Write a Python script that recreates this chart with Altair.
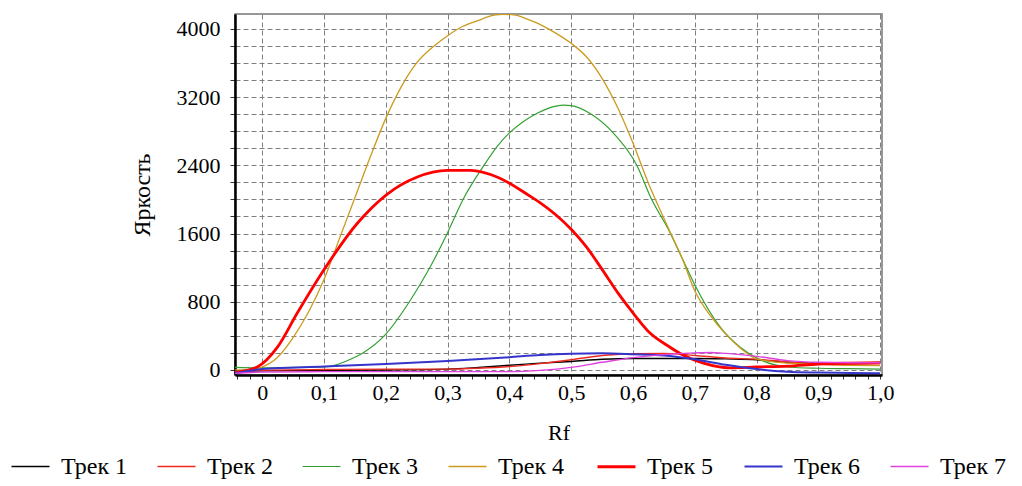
import altair as alt
import pandas as pd

tracks = ["Трек 1", "Трек 2", "Трек 3", "Трек 4", "Трек 5", "Трек 6", "Трек 7"]
colors = ["#000000", "#ee2a22", "#33a033", "#cc9a1c", "#ff0000", "#3535cc", "#e040e0"]
widths = [1.4, 1.4, 1.2, 1.3, 2.8, 2.0, 1.4]

rf_t1 = [-0.044, 0.0, 0.1, 0.2, 0.3, 0.35, 0.4, 0.45, 0.5, 0.55, 0.6, 0.65, 0.7, 0.75, 0.8, 0.85, 0.9, 0.95, 1.0]
val_t1 = [-20, -10, -5, 0, 10, 30, 55, 80, 100, 125, 135, 135, 135, 130, 120, 90, 80, 80, 80]

rf_t2 = [-0.044, 0.0, 0.1, 0.2, 0.3, 0.35, 0.4, 0.45, 0.5, 0.55, 0.6, 0.65, 0.7, 0.75, 0.8, 0.85, 0.9, 0.95, 1.0]
val_t2 = [-25, -5, 5, 10, 10, 20, 40, 75, 120, 170, 190, 195, 170, 140, 125, 95, 70, 62, 55]

rf_t3 = [-0.044, 0.0, 0.05, 0.1, 0.15, 0.163, 0.2, 0.24, 0.272, 0.3, 0.325, 0.358, 0.38, 0.4, 0.42, 0.445, 0.47,
         0.487, 0.5, 0.53, 0.568, 0.607, 0.628, 0.66, 0.681, 0.7, 0.741, 0.773, 0.806, 0.85, 0.9, 0.95, 1.0]
val_t3 = [30, 25, 30, 35, 150, 200, 420, 820, 1210, 1610, 2000, 2390, 2620, 2780, 2900, 3010, 3085,
          3105, 3100, 3010, 2780, 2390, 2035, 1610, 1290, 1000, 505, 270, 120, 35, 20, 15, 10]

rf_t4 = [-0.044, -0.015, 0.0, 0.025, 0.05, 0.075, 0.1, 0.125, 0.15, 0.175, 0.2, 0.225, 0.25, 0.275, 0.3,
         0.325, 0.35, 0.375, 0.39, 0.41, 0.43, 0.45, 0.475, 0.5, 0.525, 0.55, 0.575, 0.6, 0.625, 0.655,
         0.68, 0.7, 0.725, 0.75, 0.775, 0.8, 0.85, 0.9, 0.95, 1.0]
val_t4 = [0, 5, 35, 150, 380, 680, 1060, 1540, 2020, 2500, 2950, 3320, 3600, 3780, 3920,
          4030, 4100, 4160, 4170, 4160, 4110, 4050, 3950, 3830, 3670, 3420, 3080, 2660, 2190, 1700,
          1300, 930, 640, 420, 250, 130, 80, 65, 55, 50]

rf_t5 = [-0.044, -0.008, 0.025, 0.057, 0.1, 0.154, 0.202, 0.25, 0.3, 0.337, 0.381, 0.434, 0.45, 0.475, 0.5,
         0.525, 0.55, 0.575, 0.6, 0.628, 0.655, 0.681, 0.714, 0.757, 0.8, 0.85, 0.9, 0.95, 1.0]
val_t5 = [-30, 35, 270, 670, 1175, 1720, 2060, 2260, 2340, 2340, 2260, 2035, 1960, 1820, 1650,
          1440, 1180, 910, 670, 430, 290, 175, 80, 25, 35, 45, 70, 80, 85]

rf_t6 = [-0.044, 0.0, 0.1, 0.2, 0.3, 0.4, 0.45, 0.5, 0.55, 0.6, 0.65, 0.7, 0.75, 0.8, 0.85, 0.9, 0.95, 1.0]
val_t6 = [-40, 10, 40, 70, 105, 150, 175, 190, 195, 185, 170, 125, 60, 10, -20, -30, -35, -40]

rf_t7 = [-0.044, 0.0, 0.1, 0.2, 0.3, 0.4, 0.45, 0.5, 0.55, 0.6, 0.65, 0.7, 0.725, 0.75, 0.8, 0.85, 0.9, 0.95, 1.0]
val_t7 = [-40, -25, -20, -20, -20, -20, -5, 30, 90, 145, 180, 200, 205, 195, 160, 110, 90, 85, 85]

x_ticks = [round(-0.04 + 0.02 * i, 2) for i in range(53)]
y_ticks = [200 * i for i in range(21)]

rows = []
for name, rf, val in [
    (tracks[0], rf_t1, val_t1), (tracks[1], rf_t2, val_t2), (tracks[2], rf_t3, val_t3),
    (tracks[3], rf_t4, val_t4), (tracks[4], rf_t5, val_t5), (tracks[5], rf_t6, val_t6),
    (tracks[6], rf_t7, val_t7),
]:
    for i, (a, b) in enumerate(zip(rf, val)):
        rows.append({"track": name, "rf": a, "val": b, "i": i})
df = pd.DataFrame(rows)

major_x = "abs(datum.value*10 - round(datum.value*10)) < 0.01 && datum.value > -0.001"

legend = alt.Legend(
    title=None, orient="none", legendX=-225, legendY=432, direction="horizontal", columns=7,
    symbolType="stroke", symbolSize=1444, labelFont="Liberation Serif", labelFontSize=24,
    labelColor="#000", labelOffset=10, columnPadding=26, symbolStrokeWidth=2,
)

chart = alt.Chart(df).mark_line(interpolate="monotone", clip=True).encode(
    x=alt.X("rf:Q", scale=alt.Scale(domain=[-0.044, 1.003], nice=False, zero=False),
            axis=alt.Axis(
                title="Rf", values=x_ticks, labelExpr=f"({major_x}) ? (abs(datum.value) < 0.001 ? '0' : replace(format(datum.value, '.1f'), '.', ',')) : ''",
                gridOpacity={"condition": {"test": major_x, "value": 1}, "value": 0},
                labelFlush=False, labelOverlap=False, tickSize=4, labelPadding=3, titlePadding=19,
            )),
    y=alt.Y("val:Q", scale=alt.Scale(domain=[-59, 4174], nice=False, zero=False),
            axis=alt.Axis(
                title="Яркость", titleFontSize=24, values=y_ticks,
                labelExpr="datum.value % 800 == 0 ? format(datum.value, 'd') : ''",
                labelFlush=False, labelOverlap=False, tickSize=5, labelPadding=10, titlePadding=22,
            )),
    color=alt.Color("track:N", scale=alt.Scale(domain=tracks, range=colors), legend=legend),
    strokeWidth=alt.StrokeWidth("track:N", scale=alt.Scale(type="ordinal", domain=tracks, range=widths), legend=legend),
    order="i:Q",
).properties(
    width=647, height=361,
    padding={"left": 227, "top": 6, "right": 130, "bottom": 110},
    autosize=alt.AutoSizeParams(type="none"),
).configure(
    font="Liberation Serif",
).configure_view(
    stroke="#777777", strokeWidth=1.5,
).configure_axis(
    labelFont="Liberation Serif", labelFontSize=22, labelColor="#000",
    titleFont="Liberation Serif", titleFontSize=22, titleFontWeight="normal", titleColor="#000",
    domainColor="#000", domainWidth=2.5, tickColor="#333", tickWidth=1,
    gridColor="#808080", gridDash=[5, 3], gridWidth=1,
)

chart.save("out.html", embed_options={"renderer": "svg", "actions": False})
